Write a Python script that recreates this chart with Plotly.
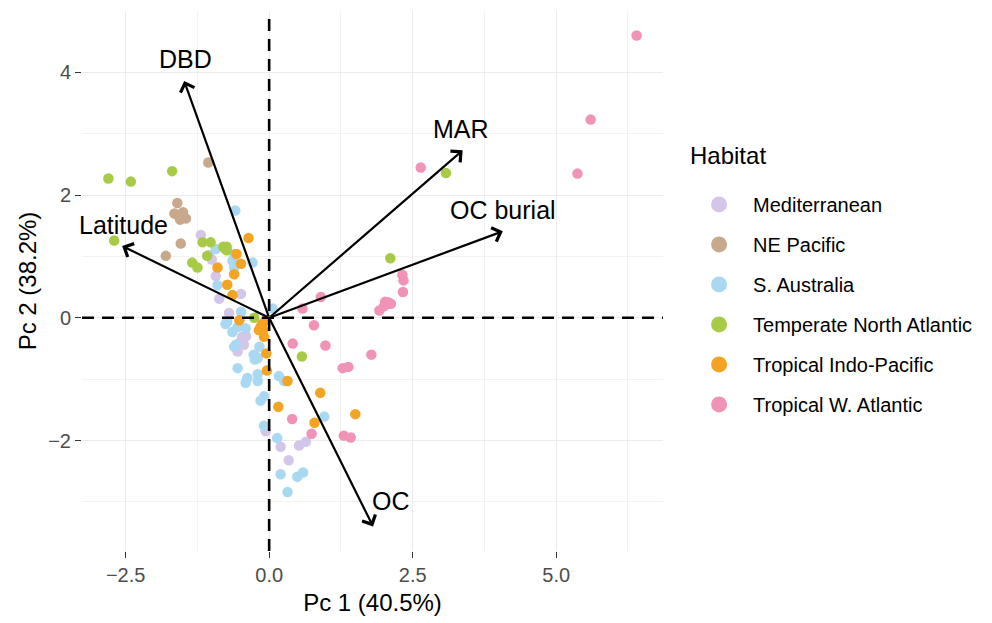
import plotly.graph_objects as go

# ---------------- data ----------------
habitats = ["Mediterranean", "NE Pacific", "S. Australia",
            "Temperate North Atlantic", "Tropical Indo-Pacific", "Tropical W. Atlantic"]

med_pc1 = [-1.19, -1.05, -1.00, -0.93, -0.87, -0.49, -0.70, -0.47, -0.52, -0.44, -0.55, -0.40,
           -0.06, 0.20, 0.52, 0.64, 0.34]
med_pc2 = [1.35, 1.02, 0.95, 0.68, 0.31, 0.39, 0.08, -0.31, -0.41, -0.44, -0.55, -0.30,
           -1.85, -2.10, -2.08, -2.02, -2.32]

nep_pc1 = [-1.06, -1.60, -1.65, -1.50, -1.55, -1.45, -1.58, -1.54, -1.80]
nep_pc2 = [2.53, 1.87, 1.70, 1.72, 1.60, 1.62, 1.66, 1.21, 1.01]

sau_pc1 = [-0.59, -0.61, -0.64, -0.61, -0.93, -0.29, -0.90, -0.49, -0.73, 0.06, -0.64, -0.41,
           -0.58, -0.61, -0.23, -0.27, -0.20, -0.25, -0.17, -0.55, -0.38, -0.20, 0.17, 0.26,
           -0.41, -0.20, -0.15, -0.09, 0.96, -0.09, 0.14, 0.20, 0.49, 0.59, 0.32, -0.55, -0.76]
sau_pc2 = [1.75, 1.04, 0.93, 0.82, 1.12, 0.90, 0.53, 0.10, -0.06, 0.15, -0.23, -0.17,
           -0.44, -0.47, -0.63, -0.60, -0.66, -0.68, -0.47, -0.82, -0.98, -0.92, -0.95, -1.03,
           -1.06, -1.03, -1.35, -1.28, -1.61, -1.76, -1.96, -2.55, -2.59, -2.52, -2.84, -0.15, -0.10]

tna_pc1 = [-2.80, -2.41, -1.69, -2.70, -1.16, -1.02, -0.77, -0.80, -0.74, -0.74, -1.08, -1.34,
           -1.25, 3.08, 2.11, 0.57, -0.26]
tna_pc2 = [2.27, 2.22, 2.39, 1.26, 1.23, 1.23, 1.13, 1.16, 1.10, 1.16, 1.01, 0.90,
           0.82, 2.36, 0.97, -0.63, 0.00]

tip_pc1 = [-0.36, -0.57, -0.49, -0.90, -0.61, -0.73, -0.64, -0.52, -0.15, -0.12, -0.18, -0.10,
           -0.07, -0.09, -0.05, -0.04, 0.32, 0.89, 0.16, 1.50, 0.79]
tip_pc2 = [1.30, 1.04, 0.88, 0.82, 0.71, 0.54, 0.37, -0.04, -0.15, -0.10, -0.20, -0.20,
           -0.05, -0.31, -0.58, -0.86, -1.03, -1.22, -1.45, -1.57, -1.71]

twa_pc1 = [6.40, 5.60, 5.37, 2.64, 2.32, 2.34, 2.33, 2.04, 2.00, 2.08, 2.02, 1.92, 2.12,
           0.90, 0.58, 0.78, 0.41, 0.98, 1.78, 1.28, 1.38, 0.40, 0.74, 1.30, 1.42]
twa_pc2 = [4.60, 3.23, 2.35, 2.45, 0.70, 0.61, 0.42, 0.22, 0.19, 0.25, 0.26, 0.12, 0.23,
           0.34, 0.15, -0.12, -0.42, -0.45, -0.60, -0.82, -0.80, -1.65, -1.89, -1.92, -1.95]

loading_names = ["DBD", "Latitude", "MAR", "OC burial", "OC"]
loading_pc1 = [-1.48, -2.56, 3.37, 4.07, 1.81]
loading_pc2 = [3.86, 1.17, 2.73, 1.41, -3.40]
label_pc1 = [-1.45, -2.53, 3.35, 4.07, 2.12]
label_pc2 = [4.21, 1.51, 3.08, 1.76, -2.98]

x_ticks = [-2.5, 0.0, 2.5, 5.0]
y_ticks = [-2, 0, 2, 4]

# ---------------- style ----------------
colors = ["#D4C6E9", "#C9A98B", "#A9D8F2", "#A7CB47", "#F5A322", "#F193B7"]
FONT = "Liberation Sans, Arial, sans-serif"

series = [(med_pc1, med_pc2), (nep_pc1, nep_pc2), (sau_pc1, sau_pc2),
          (tna_pc1, tna_pc2), (tip_pc1, tip_pc2), (twa_pc1, twa_pc2)]

fig = go.Figure()
for name, (xs, ys), col in zip(habitats, series, colors):
    fig.add_trace(go.Scatter(x=xs, y=ys, mode="markers", name=name, legendgroup=name,
                             showlegend=False,
                             marker=dict(color=col, size=10.5, line=dict(width=0))))
for name, col in zip(habitats, colors):
    fig.add_trace(go.Scatter(x=[None], y=[None], mode="markers", name=name, legendgroup=name,
                             showlegend=True,
                             marker=dict(color=col, size=17, line=dict(width=0))))

# dashed zero lines
dash = "12px,8px"
fig.add_hline(y=0, line=dict(color="black", width=2.6, dash=dash), layer="above")
fig.add_vline(x=0, line=dict(color="black", width=2.6, dash=dash), layer="above")

# loading arrows + labels
for n, lx, ly, tx, ty in zip(loading_names, loading_pc1, loading_pc2, label_pc1, label_pc2):
    fig.add_annotation(x=lx, y=ly, ax=0, ay=0, xref="x", yref="y", axref="x", ayref="y",
                       text="", showarrow=True, arrowhead=4, arrowsize=1.3,
                       arrowwidth=2.2, arrowcolor="black", standoff=0)
    fig.add_annotation(x=tx, y=ty, xref="x", yref="y", text=n, showarrow=False,
                       font=dict(family=FONT, size=25, color="black"))

# legend title (placed as text so its gap to the keys matches)
fig.add_annotation(x=1.0430, y=0.7326, xref="paper", yref="paper", xanchor="left",
                   yanchor="middle", text="Habitat", showarrow=False,
                   font=dict(family=FONT, size=24, color="black"))

axis_common = dict(
    showgrid=True, gridcolor="#EBEBEB", gridwidth=1.2,
    zeroline=False, showline=False,
    ticks="outside", ticklen=6, tickwidth=1.3, tickcolor="#333333",
    tickfont=dict(family=FONT, size=20, color="#4D4D4D"),
)

fig.update_layout(
    width=992, height=623,
    margin=dict(l=82, r=329, t=11, b=66),
    paper_bgcolor="white", plot_bgcolor="white",
    font=dict(family=FONT, color="black"),
    xaxis=dict(range=[-3.26, 6.86], tickvals=x_ticks, tickformat=".1f",
               minor=dict(dtick=1.25, tick0=0, showgrid=True, gridcolor="#F2F2F2", gridwidth=1),
               title=dict(text="Pc 1 (40.5%)", font=dict(family=FONT, size=24, color="black"),
                          standoff=9),
               **axis_common),
    yaxis=dict(range=[-3.80, 5.0], tickvals=y_ticks,
               minor=dict(dtick=1, tick0=0, showgrid=True, gridcolor="#F2F2F2", gridwidth=1),
               title=dict(text="Pc 2 (38.2%)", font=dict(family=FONT, size=24, color="black"),
                          standoff=4),
               **axis_common),
    legend=dict(x=1.038, xanchor="left", y=0.678, yanchor="top",
                itemwidth=58,
                font=dict(family=FONT, size=20, color="black"),
                tracegroupgap=11, bgcolor="rgba(0,0,0,0)"),
)

fig.write_html("out.html", config={"displayModeBar": False},
               post_script="document.body.style.margin='0';document.body.style.overflow='hidden';")
